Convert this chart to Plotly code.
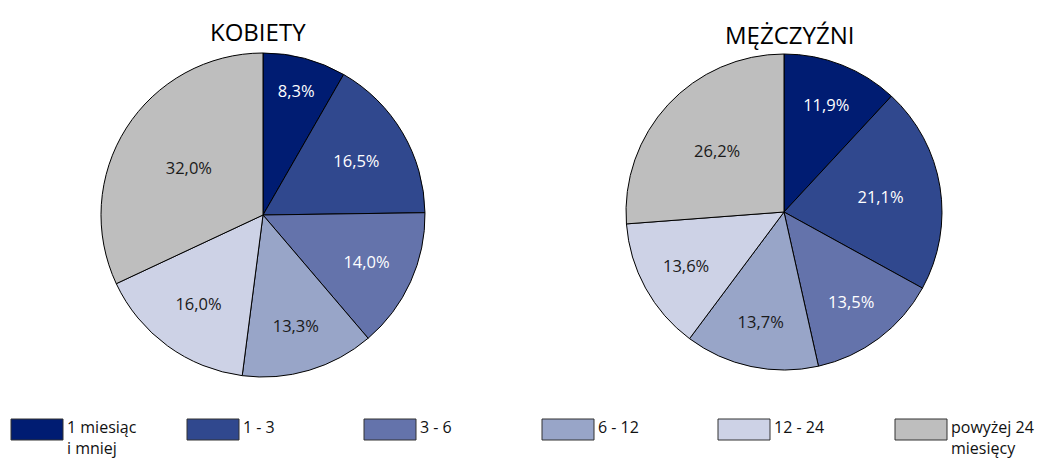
import plotly.graph_objects as go

categories = ["1 miesiąc<br>i mniej", "1 - 3", "3 - 6", "6 - 12", "12 - 24", "powyżej 24<br>miesięcy"]
women = [8.3, 16.5, 14.0, 13.3, 16.0, 32.0]
men = [11.9, 21.1, 13.5, 13.7, 13.6, 26.2]
colors = ["#001C72", "#30488E", "#6473AB", "#98A5C8", "#CDD2E6", "#BEBEBE"]
text_colors = ["white", "white", "white", "#1a1a1a", "#1a1a1a", "#1a1a1a"]
titles = ["KOBIETY", "MĘŻCZYŹNI"]

W, H = 1044, 461
FONT = "Open Sans"

def fmt(v):
    return f"{v:.1f}".replace(".", ",") + "%"

def pie(values, cx, cy, r, name):
    return go.Pie(
        labels=categories, values=values, sort=False, direction="clockwise",
        rotation=0, name=name,
        marker=dict(colors=colors, line=dict(color="black", width=1)),
        text=[fmt(v) for v in values], textinfo="text", texttemplate="%{text}",
        textposition="inside", insidetextorientation="horizontal",
        insidetextfont=dict(color=text_colors, size=16.5, family=FONT),
        domain=dict(x=[(cx - r) / W, (cx + r) / W], y=[(H - cy - r) / H, (H - cy + r) / H]),
        showlegend=False, hoverinfo="label+percent",
    )

fig = go.Figure()
fig.add_trace(pie(women, 263, 215, 162, titles[0]))
fig.add_trace(pie(men, 784, 212, 158, titles[1]))

annotations = [
    dict(text=titles[0], x=258 / W, y=1 - 31 / H, xref="paper", yref="paper", showarrow=False,
         font=dict(size=24, family=FONT, color="black"), xanchor="center", yanchor="middle"),
    dict(text=titles[1], x=789 / W, y=1 - 34 / H, xref="paper", yref="paper", showarrow=False,
         font=dict(size=24, family=FONT, color="black"), xanchor="center", yanchor="middle"),
]
shapes = []
x0s = [11, 187, 364, 542, 718, 895]
for i, (lab, col) in enumerate(zip(categories, colors)):
    x0 = x0s[i]
    shapes.append(dict(type="rect", xref="paper", yref="paper",
                       x0=x0 / W, x1=(x0 + 52) / W, y0=1 - 440 / H, y1=1 - 419 / H,
                       fillcolor=col, line=dict(color="#333333", width=1)))
    two_line = "<br>" in lab
    annotations.append(dict(text=lab, x=(x0 + 55) / W,
                            y=(1 / H) if two_line else 1 - 415 / H,
                            xref="paper", yref="paper", borderpad=0,
                            showarrow=False, xanchor="left",
                            yanchor="bottom" if two_line else "top", align="left",
                            font=dict(size=16, family=FONT, color="#111111")))

fig.update_layout(
    width=W, height=H, margin=dict(l=0, r=0, t=0, b=0),
    paper_bgcolor="white", plot_bgcolor="white",
    annotations=annotations, shapes=shapes,
    font=dict(family=FONT),
)
fig.write_html("out.html", config={"displayModeBar": False},
               post_script="document.body.style.margin='0';")
